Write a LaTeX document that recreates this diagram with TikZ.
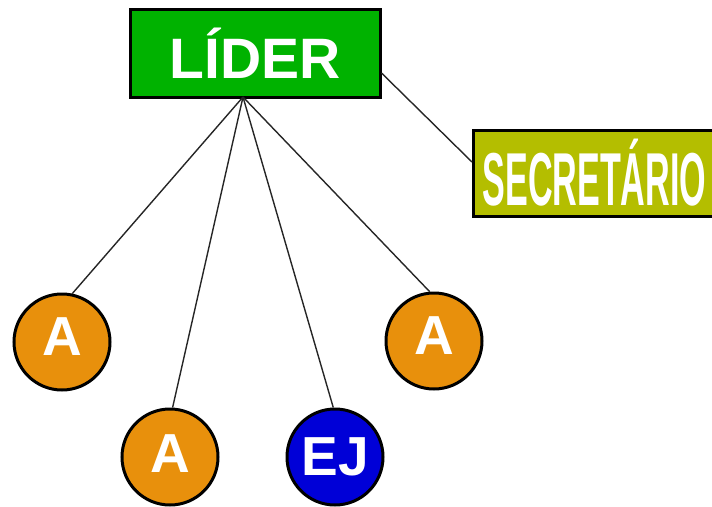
\documentclass[tikz,border=0pt]{standalone}
\usepackage{fontspec}
\setmainfont{Liberation Sans}
\definecolor{ldgreen}{RGB}{0,178,0}
\definecolor{secolive}{RGB}{180,190,0}
\definecolor{aorange}{RGB}{232,144,12}
\definecolor{ejblue}{RGB}{0,0,215}
\begin{document}
\begin{tikzpicture}[x=1pt,y=-1pt,
  boxst/.style={draw=black,line width=3pt,inner sep=0pt,text=white,font=\bfseries},
  circst/.style={circle,draw=black,line width=3pt,minimum size=96pt,inner sep=0pt},
  lbl/.style={text=white,font=\fontsize{55}{60}\selectfont\bfseries,inner sep=0pt},
  conn/.style={draw=black!85,line width=1.4pt}]
\useasboundingbox (0,0) rectangle (712,506);
\clip (0,0) rectangle (712,506);
\node[boxst,fill=ldgreen,minimum width=250pt,minimum height=88pt,font=\fontsize{57}{60}\selectfont\bfseries] (lider) at (255,53) {LÍDER};
\node[boxst,fill=secolive,anchor=west,minimum height=86pt,inner xsep=9pt,text width=240pt,align=left,font=\fontsize{75}{80}\selectfont\bfseries] (sec) at (472,173) {\scalebox{0.455}[1]{SECRETÁRIO}};
\coordinate (hub) at (243,97);
\node[circst,fill=aorange,label={[lbl,yshift=5pt]center:A}] (a1) at (62,342) {};
\node[circst,fill=aorange,label={[lbl,yshift=3pt]center:A}] (a2) at (170,457) {};
\node[circst,fill=ejblue,label={[lbl]center:EJ}] (ej) at (335,457) {};
\node[circst,fill=aorange,label={[lbl,yshift=5pt]center:A}] (a3) at (434,341) {};
\draw[conn] (hub) -- (a1.78);
\draw[conn] (hub) -- (a2.87);
\draw[conn] (hub) -- (ej.92);
\draw[conn] (hub) -- (a3.95);
\draw[conn] (lider.east |- 0,73) -- (sec.west |- 0,162);
\end{tikzpicture}
\end{document}
